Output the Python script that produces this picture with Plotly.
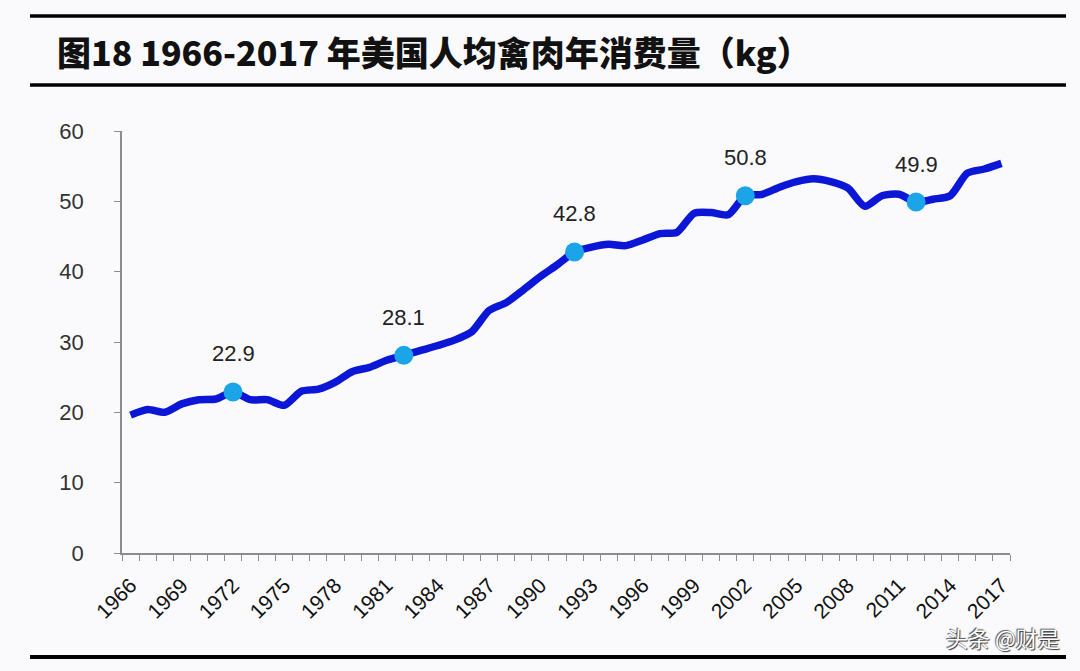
import plotly.graph_objects as go

years = list(range(1966, 2018))
consumption = [19.6, 20.4, 20.0, 21.2, 21.8, 21.9, 22.9, 21.8, 21.8, 21.0,
               23.0, 23.3, 24.3, 25.8, 26.4, 27.4, 28.1, 28.8, 29.5, 30.3,
               31.5, 34.5, 35.6, 37.4, 39.3, 41.0, 42.8, 43.5, 43.9, 43.7,
               44.5, 45.4, 45.6, 48.3, 48.4, 48.1, 50.8, 51.0, 52.0, 52.8,
               53.2, 52.8, 51.9, 49.3, 50.8, 51.0, 49.9, 50.3, 50.8, 54.0,
               54.6, 55.4]
highlight_years = [1972, 1982, 1992, 2002, 2012]
tick_years = list(range(1966, 2018, 3))
title_text = "图18 1966-2017 年美国人均禽肉年消费量（kg）"
watermark = "头条 @财是"

W, H = 1080, 671
L, R, T, B = 122, 1010, 131, 553
def px(x): return (x - L) / (R - L)
def py(y): return (B - y) / (B - T)

hl_vals = [consumption[years.index(y)] for y in highlight_years]

fig = go.Figure()
fig.add_trace(go.Scatter(
    x=years, y=consumption, mode="lines",
    line=dict(color="#0B16D6", width=7.5, shape="spline", smoothing=0.7),
    hoverinfo="skip", showlegend=False))
fig.add_trace(go.Scatter(
    x=highlight_years, y=hl_vals, mode="markers",
    marker=dict(color="#1BA4E8", size=19, line=dict(width=0)),
    showlegend=False))

for xv, yv in zip(highlight_years, hl_vals):
    fig.add_annotation(x=xv, y=yv, text=f"{yv:.1f}", showarrow=False,
                       yshift=38, font=dict(family="Arial, Liberation Sans", size=22, color="#222222"))

fig.add_annotation(xref="paper", yref="paper", x=px(55), y=py(52), xanchor="left", yanchor="middle",
                   text=title_text, showarrow=False,
                   font=dict(family="Noto Sans CJK SC", size=34, color="#111111", weight=900))
fig.add_annotation(xref="paper", yref="paper", x=px(1062), y=py(637), xanchor="right", yanchor="middle",
                   text=watermark, showarrow=False,
                   font=dict(family="Noto Sans CJK SC", size=22, color="#ffffff",
                             shadow="1px 1px 1px #333333, -1px -1px 1px #555555"))

for yl, w in [(16, 3.5), (85, 3.5), (657, 4)]:
    fig.add_shape(type="line", xref="paper", yref="paper", x0=px(30), x1=px(1066),
                  y0=py(yl), y1=py(yl), line=dict(color="#000000", width=w))

fig.update_layout(
    width=W, height=H,
    margin=dict(l=L, r=W - R, t=T, b=H - B),
    paper_bgcolor="#FAFAFC", plot_bgcolor="#FAFAFC",
    showlegend=False,
)
fig.update_xaxes(
    range=[1965.5, 2017.5], tickmode="array", tickvals=tick_years,
    ticktext=[str(t) for t in tick_years], tickangle=-45, ticks="",
    ticklabelstandoff=10,
    tickfont=dict(family="Arial, Liberation Sans", size=21, color="#111111"),
    showgrid=False, zeroline=False, showline=True, linecolor="#8c8c8c", linewidth=1.5,
    minor=dict(tickmode="linear", tick0=1965.5, dtick=1, ticks="outside", ticklen=6,
               tickcolor="#8c8c8c", tickwidth=1.2, showgrid=False),
)
fig.update_yaxes(
    range=[0, 60], tickmode="linear", tick0=0, dtick=10, ticks="outside", ticklen=6,
    tickcolor="#8c8c8c", tickwidth=1.2, ticklabelstandoff=26,
    tickfont=dict(family="Arial, Liberation Sans", size=22, color="#333333"),
    showgrid=False, zeroline=False, showline=True, linecolor="#8c8c8c", linewidth=1.5,
)

fig.write_html("out.html")
